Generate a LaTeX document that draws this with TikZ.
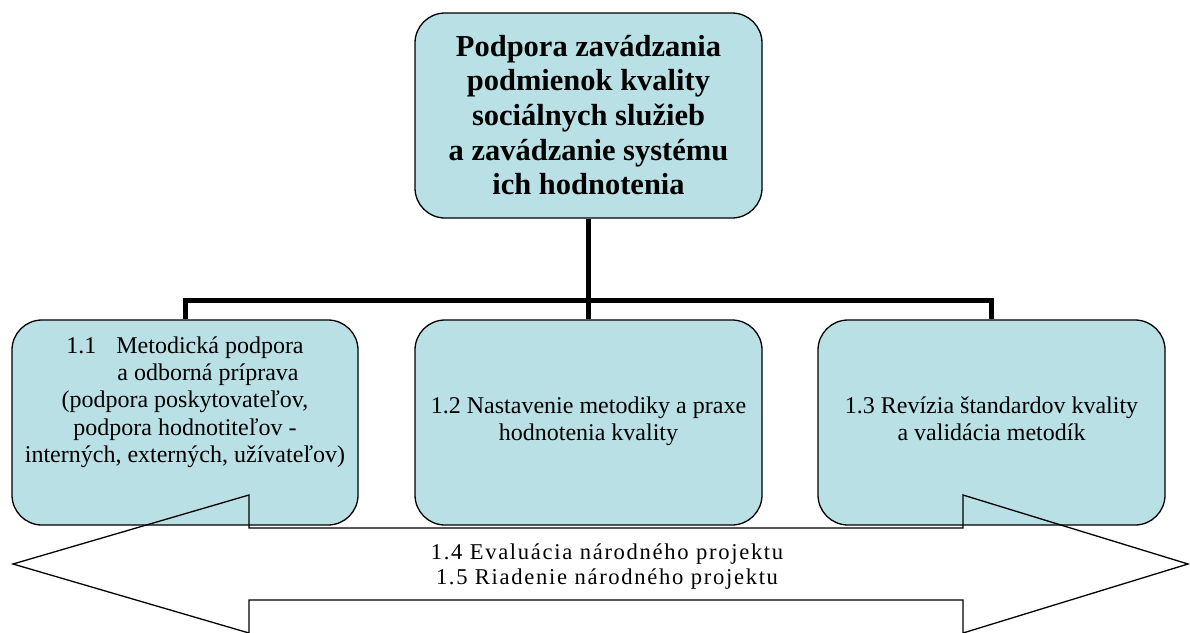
\documentclass[tikz,border=0pt]{standalone}
\usepackage{fontspec}
\setmainfont{Liberation Serif}
\newfontfamily\spacedserif[LetterSpace=7.5]{Liberation Serif}
\definecolor{boxfill}{RGB}{185,224,228}
\tikzset{
  box/.style={draw=black, line width=1.3pt, fill=boxfill, rounded corners=30pt, inner sep=0pt},
  conn/.style={draw=black, line width=5pt, line join=miter},
  bigarrow/.style={draw=black, line width=1.3pt, line join=miter},
  smalltxt/.style={align=center, inner sep=0pt, font=\fontsize{24}{27.3}\selectfont},
  arrtxt/.style={align=center, inner sep=0pt, font=\spacedserif\fontsize{22.6}{25}\selectfont},
  toptxt/.style={align=center, inner sep=0pt, font=\fontsize{30.5}{34.7}\selectfont\bfseries}
}
\begin{document}
\begin{tikzpicture}[x=1pt,y=-1pt]
\useasboundingbox (0,0) rectangle (1190,632);
\coordinate (bar) at (0,300);
% invisible anchors for connectors
\node[box, minimum width=347pt, minimum height=205pt, fill=none, draw=none] (top) at (588.5,115.5) {};
\node[box, minimum width=346pt, minimum height=205pt, fill=none, draw=none] (b1) at (185,422.5) {};
\node[box, minimum width=347pt, minimum height=205pt, fill=none, draw=none] (b2) at (588.5,422.5) {};
\node[box, minimum width=347pt, minimum height=205pt, fill=none, draw=none] (b3) at (991.5,422.5) {};
% connectors (under boxes)
\draw[conn] (top.south) -- (b2.north);
\draw[conn] (b1.north) -- (b1.north |- bar) -- (b3.north |- bar) -- (b3.north);
% boxes
\node[box, minimum width=347pt, minimum height=205pt] (topbox) at (top) {};
\node[box, minimum width=346pt, minimum height=205pt] (b1box) at (b1) {};
\node[box, minimum width=347pt, minimum height=205pt] (b2box) at (b2) {};
\node[box, minimum width=347pt, minimum height=205pt] (b3box) at (b3) {};
% double arrow (unfilled, on top)
\draw[bigarrow] (13,564) -- (249,495) -- (249,528) -- (963,528) -- (963,495) -- (1188,564)
  -- (963,633) -- (963,600) -- (249,600) -- (249,633) -- cycle;
% texts
\node[toptxt] (toptext) at (588.5,115) {Podpora zavádzania\\podmienok kvality\\sociálnych služieb\\a zavádzanie systému\\ich hodnotenia};
\node[smalltxt] (b1text) at (185,402) {1.1\hspace{20pt}Metodická podpora\\\hspace*{46pt}a odborná príprava\\(podpora poskytovateľov,\\podpora hodnotiteľov -\\interných, externých, užívateľov)};
\node[smalltxt] (b2text) at (588.5,421) {1.2 Nastavenie metodiky a praxe\\hodnotenia kvality};
\node[smalltxt] (b3text) at (991.5,419) {1.3 Revízia štandardov kvality\\a validácia metodík};
\node[arrtxt] (arrtext) at (607,567) {1.4 Evaluácia národného projektu\\1.5 Riadenie národného projektu};
\end{tikzpicture}
\end{document}
